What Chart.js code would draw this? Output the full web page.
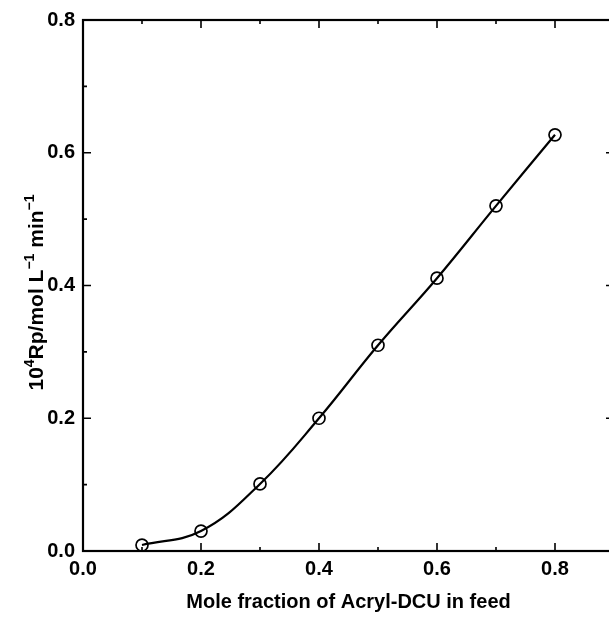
<!DOCTYPE html>
<html>
<head>
<meta charset="utf-8">
<script src="https://cdn.jsdelivr.net/npm/chart.js@4.4.1/dist/chart.umd.min.js"></script>
<style>
  html, body { margin: 0; padding: 0; background: #fff; overflow: hidden; }
  #wrap { position: absolute; left: 0; top: 0; width: 630px; height: 617px; }
</style>
</head>
<body>
<div id="wrap"><canvas id="chart" width="630" height="617"></canvas></div>
<script>
// values
const moleFraction = [0.1, 0.2, 0.3, 0.4, 0.5, 0.6, 0.7, 0.8];
const rate = [0.009, 0.030, 0.101, 0.200, 0.310, 0.411, 0.520, 0.627];
const xTicks = [0.0, 0.2, 0.4, 0.6, 0.8];
const yTicks = [0.0, 0.2, 0.4, 0.6, 0.8];
const xMinor = [0.1, 0.3, 0.5, 0.7];
const yMinor = [0.1, 0.3, 0.5, 0.7];

const FONT = '"Liberation Sans", Arial, Helvetica, sans-serif';

// frame + inward ticks on all four sides
const frameTicks = {
  id: 'frameTicks',
  afterDatasetsDraw(chart) {
    const { ctx, chartArea: a, scales: { x, y } } = chart;
    ctx.save();
    ctx.strokeStyle = '#000';
    ctx.lineWidth = 2.2;
    ctx.strokeRect(a.left, a.top, a.right - a.left, a.bottom - a.top);
    ctx.lineWidth = 1.6;
    const tick = (vals, len) => {
      vals.forEach(v => {
        const px = x.getPixelForValue(v);
        ctx.beginPath();
        ctx.moveTo(px, a.bottom); ctx.lineTo(px, a.bottom - len);
        ctx.moveTo(px, a.top); ctx.lineTo(px, a.top + len);
        ctx.stroke();
      });
    };
    const tickY = (vals, len) => {
      vals.forEach(v => {
        const py = y.getPixelForValue(v);
        ctx.beginPath();
        ctx.moveTo(a.left, py); ctx.lineTo(a.left + len, py);
        ctx.moveTo(a.right, py); ctx.lineTo(a.right - len, py);
        ctx.stroke();
      });
    };
    tick(xTicks, 8); tick(xMinor, 4);
    tickY(yTicks, 8); tickY(yMinor, 4);
    ctx.restore();
  }
};

// y title with superscripts
const yTitle = {
  id: 'yTitle',
  afterDraw(chart) {
    const { ctx, chartArea: a } = chart;
    const parts = [
      ['10', false], ['4', true], ['Rp/mol L', false], ['\u22121', true],
      [' min', false], ['\u22121', true]
    ];
    const big = 'bold 21px ' + FONT, small = 'bold 14px ' + FONT;
    ctx.save();
    let total = 0;
    parts.forEach(([t, sup]) => { ctx.font = sup ? small : big; total += ctx.measureText(t).width; });
    ctx.translate(43, (a.top + a.bottom) / 2 + 7);
    ctx.rotate(-Math.PI / 2);
    ctx.fillStyle = '#000';
    ctx.textBaseline = 'alphabetic';
    let cx = -total / 2;
    parts.forEach(([t, sup]) => {
      ctx.font = sup ? small : big;
      ctx.fillText(t, cx, sup ? -9 : 0);
      cx += ctx.measureText(t).width;
    });
    ctx.restore();
  }
};

new Chart(document.getElementById('chart'), {
  type: 'line',
  data: {
    datasets: [{
      data: moleFraction.map((v, i) => ({ x: v, y: rate[i] })),
      borderColor: '#000',
      borderWidth: 2.2,
      tension: 0.4,
      pointStyle: 'circle',
      pointRadius: 6,
      pointBorderWidth: 1.7,
      pointBorderColor: '#000',
      pointBackgroundColor: 'rgba(0,0,0,0)',
      fill: false
    }]
  },
  options: {
    responsive: false,
    animation: false,
    layout: { padding: { top: 20, right: 16, left: 0, bottom: 0 } },
    plugins: { legend: { display: false }, tooltip: { enabled: false } },
    scales: {
      x: {
        type: 'linear', min: 0, max: 0.9,
        afterBuildTicks: s => { s.ticks = xTicks.map(v => ({ value: v })); },
        afterFit: s => { s.height = 66; },
        grid: { display: false, drawTicks: false },
        border: { display: false },
        ticks: {
          padding: 6, color: '#000',
          font: { family: FONT, size: 20, weight: 'bold' },
          callback: v => v.toFixed(1)
        },
        title: {
          display: true, text: 'Mole fraction of Acryl-DCU in feed', color: '#000',
          font: { family: FONT, size: 20, weight: 'bold' },
          padding: { top: 0, bottom: 3 }
        }
      },
      y: {
        type: 'linear', min: 0, max: 0.8,
        afterBuildTicks: s => { s.ticks = yTicks.map(v => ({ value: v })); },
        afterFit: s => { s.width = 83; },
        grid: { display: false, drawTicks: false },
        border: { display: false },
        ticks: {
          padding: 8, color: '#000',
          font: { family: FONT, size: 20, weight: 'bold' },
          callback: v => v.toFixed(1)
        }
      }
    }
  },
  plugins: [frameTicks, yTitle]
});
</script>
</body>
</html>
